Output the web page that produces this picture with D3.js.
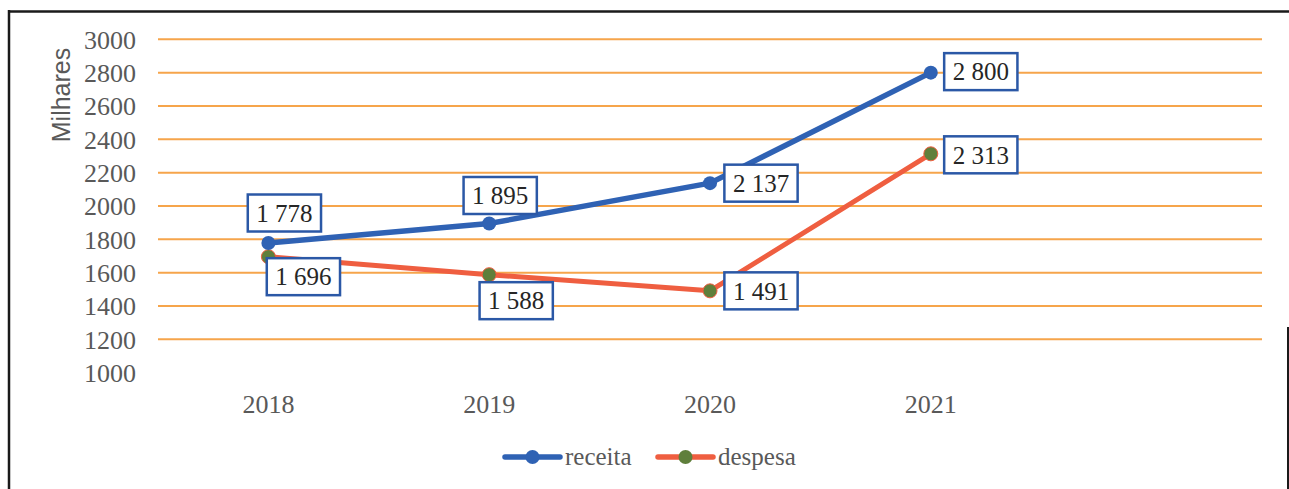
<!DOCTYPE html>
<html>
<head>
<meta charset="utf-8">
<script src="https://cdn.jsdelivr.net/npm/d3@7"></script>
<style>
  html, body { margin: 0; padding: 0; background: #fff; }
  svg { display: block; }
</style>
</head>
<body>
<svg id="chart" width="1289" height="489"></svg>
<script>
// ---- data ----
const categories = ["2018", "2019", "2020", "2021", ""];
const receita = [1778, 1895, 2137, 2800];
const despesa = [1696, 1588, 1491, 2313];
const seriesNames = ["receita", "despesa"];
const yTicks = [1000, 1200, 1400, 1600, 1800, 2000, 2200, 2400, 2600, 2800, 3000];
const yTitle = "Milhares";

// ---- label placement (manual, as in the original) ----
const receitaLabelOffsets = [[16, -30], [11, -28], [51, 0], [50, -1]];
const despesaLabelOffsets = [[35, 20], [27, 26], [51, 0], [50, 1]];

// ---- styles ----
const W = 1289, H = 489;
const plot = { left: 158, right: 1262, top: 39.3, bottom: 372.7 };
const colors = { receita: "#2f62b4", despesa: "#ef5e40", despesaMarker: "#5f7f3b", grid: "#f6a54b", box: "#2b58a6" };
const serif = "'Liberation Serif', 'DejaVu Serif', serif";
const sans = "'Liberation Sans', Arial, sans-serif";

const svg = d3.select("#chart");

// frame
svg.append("line").attr("x1", 8).attr("x2", W).attr("y1", 11.5).attr("y2", 11.5)
  .attr("stroke", "#1a1a1a").attr("stroke-width", 2.5);
svg.append("line").attr("x1", 9).attr("x2", 9).attr("y1", 10).attr("y2", H)
  .attr("stroke", "#1a1a1a").attr("stroke-width", 2.5);
svg.append("line").attr("x1", 1288).attr("x2", 1288).attr("y1", 327).attr("y2", H)
  .attr("stroke", "#1a1a1a").attr("stroke-width", 2);

const x = d3.scaleBand().domain(categories).range([plot.left, plot.right]).paddingInner(0).paddingOuter(0);
const y = d3.scaleLinear().domain([1000, 3000]).range([plot.bottom, plot.top]);
const cx = c => x(c) + x.bandwidth() / 2;

// gridlines (none at the baseline)
svg.append("g").selectAll("line").data(yTicks.filter(t => t > 1000)).join("line")
  .attr("x1", plot.left).attr("x2", plot.right)
  .attr("y1", d => y(d)).attr("y2", d => y(d))
  .attr("stroke", colors.grid).attr("stroke-width", 2);

// y axis
const yAxis = d3.axisLeft(y).tickValues(yTicks).tickSize(0).tickPadding(0).tickFormat(d3.format("d"));
const gy = svg.append("g").attr("transform", "translate(136,0)").call(yAxis);
gy.select(".domain").remove();
gy.selectAll("text").attr("font-family", serif).attr("font-size", 26).attr("fill", "#595959").attr("dy", "0.34em");

// x axis
const xAxis = d3.axisBottom(x).tickSize(0).tickPadding(0);
const gx = svg.append("g").attr("transform", "translate(0,393)").call(xAxis);
gx.select(".domain").remove();
gx.selectAll("text").attr("font-family", serif).attr("font-size", 26).attr("fill", "#595959").attr("dy", "0.75em");

// y title
svg.append("text").attr("transform", "translate(70,95) rotate(-90)")
  .attr("text-anchor", "middle").attr("font-family", sans).attr("font-size", 25)
  .attr("fill", "#595959").text(yTitle);

// lines
const line = d3.line().x((d, i) => cx(categories[i])).y(d => y(d));
svg.append("path").datum(despesa).attr("d", line).attr("fill", "none")
  .attr("stroke", colors.despesa).attr("stroke-width", 5).attr("stroke-linejoin", "round").attr("stroke-linecap", "round");
svg.append("path").datum(receita).attr("d", line).attr("fill", "none")
  .attr("stroke", colors.receita).attr("stroke-width", 5.5).attr("stroke-linejoin", "round").attr("stroke-linecap", "round");

// markers
svg.append("g").selectAll("circle").data(despesa).join("circle")
  .attr("cx", (d, i) => cx(categories[i])).attr("cy", d => y(d)).attr("r", 7)
  .attr("fill", colors.despesaMarker).attr("stroke", colors.despesa).attr("stroke-width", 1);
svg.append("g").selectAll("circle").data(receita).join("circle")
  .attr("cx", (d, i) => cx(categories[i])).attr("cy", d => y(d)).attr("r", 7)
  .attr("fill", colors.receita);

// data labels
const fmt = d3.formatLocale({ decimal: ",", thousands: " ", grouping: [3], currency: ["", ""] }).format(",d");
function labels(values, offsets) {
  const g = svg.append("g");
  values.forEach((v, i) => {
    const px = cx(categories[i]) + offsets[i][0];
    const py = y(v) + offsets[i][1];
    const lg = g.append("g").attr("transform", `translate(${px},${py})`);
    const rect = lg.append("rect");
    const t = lg.append("text").attr("text-anchor", "middle").attr("dy", "0.35em")
      .attr("font-family", serif).attr("font-size", 25).attr("fill", "#262626").text(fmt(v));
    const w = t.node().getComputedTextLength() + 17;
    const h = 37;
    rect.attr("x", -w / 2).attr("y", -h / 2).attr("width", w).attr("height", h)
      .attr("fill", "#fff").attr("stroke", colors.box).attr("stroke-width", 2.5);
  });
}
labels(receita, receitaLabelOffsets);
labels(despesa, despesaLabelOffsets);

// legend
const legendItems = [
  { name: seriesNames[0], line: colors.receita, marker: colors.receita, x: 505 },
  { name: seriesNames[1], line: colors.despesa, marker: colors.despesaMarker, x: 658 }
];
const lgd = svg.append("g").attr("transform", "translate(0,457)");
const li = lgd.selectAll("g").data(legendItems).join("g").attr("transform", d => `translate(${d.x},0)`);
li.append("line").attr("x1", 0).attr("x2", 55).attr("y1", 0).attr("y2", 0)
  .attr("stroke", d => d.line).attr("stroke-width", 5.5).attr("stroke-linecap", "round");
li.append("circle").attr("cx", 27.5).attr("cy", 0).attr("r", 7).attr("fill", d => d.marker);
li.append("text").attr("x", 60).attr("y", 0).attr("dy", "0.3em")
  .attr("font-family", serif).attr("font-size", 25).attr("fill", "#595959").text(d => d.name);
</script>
</body>
</html>
